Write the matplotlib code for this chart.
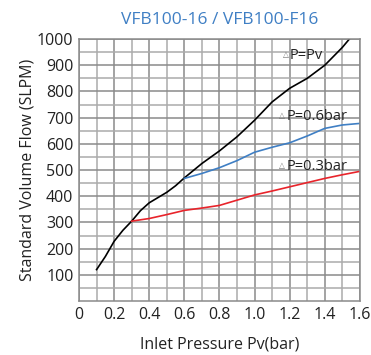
import numpy as np
import matplotlib.pyplot as plt

plt.rcParams['font.family'] = ['Open Sans', 'DejaVu Sans']

# data
pv_black = [0.1, 0.15, 0.2, 0.25, 0.3, 0.35, 0.4, 0.45, 0.5, 0.55, 0.6, 0.7, 0.8, 0.9,
            1.0, 1.1, 1.2, 1.3, 1.4, 1.5, 1.54]
flow_black = [120, 170, 228, 270, 305, 345, 375, 395, 415, 440, 470, 525, 573, 627,
              690, 760, 812, 850, 900, 968, 1000]

pv_blue = [0.6, 0.7, 0.8, 0.9, 1.0, 1.1, 1.2, 1.3, 1.4, 1.5, 1.6]
flow_blue = [468, 487, 509, 536, 568, 587, 604, 630, 659, 672, 678]

pv_red = [0.3, 0.4, 0.5, 0.6, 0.7, 0.8, 0.9, 1.0, 1.1, 1.2, 1.3, 1.4, 1.5, 1.6]
flow_red = [305, 315, 330, 346, 355, 365, 385, 405, 420, 436, 452, 468, 482, 495]

labels = ['P=Pv', 'P=0.6bar', 'P=0.3bar']
label_pos = [(1.2, 936), (1.18, 706), (1.18, 515)]

x_ticks = [0, 0.2, 0.4, 0.6, 0.8, 1.0, 1.2, 1.4, 1.6]
x_ticklabels = ['0', '0.2', '0.4', '0.6', '0.8', '1.0', '1.2', '1.4', '1.6']
y_ticks = [100, 200, 300, 400, 500, 600, 700, 800, 900, 1000]

fig = plt.figure(figsize=(3.71, 3.55), dpi=100)
ax = fig.add_axes([0.213, 0.152, 0.757, 0.738])

ax.set_xlim(0, 1.6)
ax.set_ylim(0, 1000)
ax.set_xticks(x_ticks)
ax.set_xticklabels(x_ticklabels)
ax.set_yticks(y_ticks)
ax.set_xticks(np.arange(0.1, 1.6, 0.2), minor=True)
ax.set_yticks(np.arange(50, 1000, 100), minor=True)
ax.grid(which='major', color='#8a8a8a', lw=1.1)
ax.grid(which='minor', color='#ababab', lw=1.1)
ax.set_axisbelow(True)
ax.tick_params(which='both', length=0, labelsize=11.5, pad=4, colors='#222222')
for s in ax.spines.values():
    s.set_color('#8a8a8a')
    s.set_linewidth(1.1)

ax.plot(pv_black, flow_black, color='black', lw=1.2)
ax.plot(pv_blue, flow_blue, color='#3f7fc4', lw=1.2)
ax.plot(pv_red, flow_red, color='#e8242b', lw=1.2)

for lab, (x, y) in zip(labels, label_pos):
    ax.text(x - 0.005, y, '\u25b3', fontsize=5.5, color='#777777', ha='right', va='center')
    ax.text(x, y, lab, fontsize=10.5, color='#222222', ha='left', va='center')

ax.set_title('VFB100-16 / VFB100-F16', color='#3f7fc4', fontsize=12.5, pad=11)
ax.set_xlabel('Inlet Pressure Pv(bar)', fontsize=11.5, labelpad=10, color='#222222')
ax.set_ylabel('Standard Volume Flow (SLPM)', fontsize=11.5, labelpad=1, color='#222222')

fig.savefig('out.png', dpi=100)
